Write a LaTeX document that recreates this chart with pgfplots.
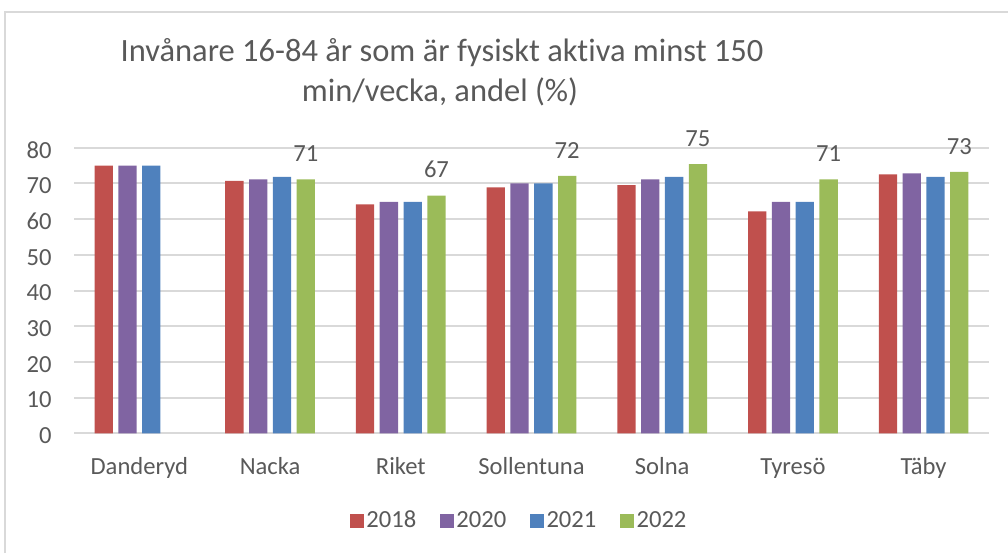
\documentclass[border=0pt]{standalone}
\usepackage{pgfplots}
\pgfplotsset{compat=1.18}
\usepackage{fontspec}
\setmainfont{Carlito}[Ligatures={NoCommon,NoRare}]
\definecolor{txt}{HTML}{595959}
\definecolor{gridc}{HTML}{D9D9D9}
\definecolor{c18}{HTML}{C0504D}
\definecolor{c20}{HTML}{8064A2}
\definecolor{c21}{HTML}{4F81BD}
\definecolor{c22}{HTML}{9BBB59}
\begin{document}
\begin{tikzpicture}
\useasboundingbox (0,0) rectangle (504pt,276.5pt);
\draw[gridc, line width=1pt] (2.5pt,0pt) -- (2.5pt,270.5pt) -- (504pt,270.5pt);
\node[anchor=base, text=txt, font=\fontsize{16.25pt}{19pt}\selectfont, inner sep=0pt] at (221pt,245.65pt) {Invånare 16-84 år som är fysiskt aktiva minst 150};
\node[anchor=base, text=txt, font=\fontsize{16.25pt}{19pt}\selectfont, inner sep=0pt] at (220pt,225.65pt) {min/vecka, andel (\%)};
\begin{axis}[
  at={(37pt,59.85pt)}, anchor=south west,
  scale only axis, width=457.5pt, height=142.8pt,
  xmin=-0.5, xmax=6.5, ymin=0, ymax=80,
  axis line style={draw=none},
  xtick={0,...,6},
  xticklabels={Danderyd, Nacka, Riket, Sollentuna, Solna, Tyresö, Täby},
  ytick={0,10,...,80},
  major tick length=0pt,
  ymajorgrids, grid style={gridc, line width=1pt},
  tick label style={text=txt, font=\fontsize{12.3pt}{14pt}\selectfont, inner sep=0pt},
  xticklabel style={anchor=base, yshift=-20.35pt},
  yticklabel style={anchor=east, xshift=-11pt, yshift=-1.2pt},
  /pgf/number format/assume math mode=true,
  ybar, bar width=9.15pt,
  every axis plot/.append style={draw=none},
  legend columns=4,
  legend style={draw=none, fill=none, at={(0.487,-0.307)}, anchor=center,
    font=\fontsize{12.3pt}{14pt}\selectfont, text=txt,
    /tikz/every even column/.append style={column sep=10.5pt},
    nodes={inner sep=1.4pt}},
  legend image code/.code={\fill[#1] (0pt,-3.4pt) rectangle (6.8pt,3.4pt);},
  clip=false,
]
\addplot[fill=c18, bar shift=-17.85pt] coordinates {(0,75.0) (1,70.7) (2,64.1) (3,68.9) (4,69.5) (5,62.2) (6,72.5)};
\addlegendentry{2018}
\addplot[fill=c20, bar shift=-5.95pt] coordinates {(0,75.0) (1,71.1) (2,64.8) (3,70.0) (4,71.1) (5,64.8) (6,72.8)};
\addlegendentry{2020}
\addplot[fill=c21, bar shift=5.95pt] coordinates {(0,75.0) (1,71.8) (2,64.8) (3,70.0) (4,71.8) (5,64.8) (6,71.8)};
\addlegendentry{2021}
\addplot[fill=c22, bar shift=17.85pt,
  nodes near coords,
  nodes near coords style={text=txt, font=\fontsize{12.3pt}{14pt}\selectfont, anchor=base, inner sep=0pt, yshift=8.8pt},
  point meta=explicit symbolic]
  coordinates {(1,71.1)[71] (2,66.6)[67] (3,72.1)[72] (4,75.4)[75] (5,71.1)[71] (6,73.2)[73]};
\addlegendentry{2022}
\end{axis}
\end{tikzpicture}
\end{document}
